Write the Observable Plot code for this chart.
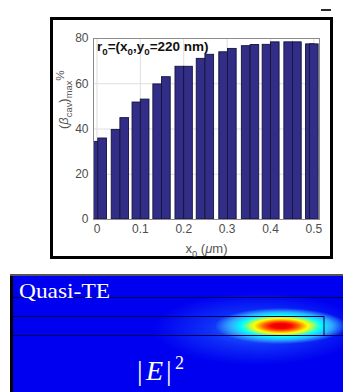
<!DOCTYPE html>
<html><head><meta charset="utf-8">
<script src="https://cdn.jsdelivr.net/npm/d3@7"></script>
<script src="https://cdn.jsdelivr.net/npm/@observablehq/plot@0.6"></script>
<style>
html,body{margin:0;padding:0;background:#fff;}
#wrap{position:relative;width:343px;height:392px;overflow:hidden;font-family:"Liberation Sans",Arial,sans-serif;}
#frame{position:absolute;left:50px;top:17px;width:277px;height:236px;border:3px solid #000;background:#fff;}
#chart{position:absolute;left:0;top:0;}
#mark{position:absolute;left:321px;top:9px;width:10px;height:1.5px;background:#2a2a2a;}
#field{position:absolute;left:13px;top:276px;width:330px;height:116px;
background:
 radial-gradient(ellipse 66px 18px at 268px 50px,#d80000 0%,#ff0000 15%,#ff5a00 26%,#ffb400 34%,#ffff00 41%,#90ff70 50%,#00ffff 60%,#30aaff 77%,rgba(0,70,255,0) 100%),
 radial-gradient(ellipse 105px 36px at 245px 53px,rgba(50,140,255,0.8) 0%,rgba(30,100,255,0.45) 50%,rgba(0,0,240,0) 100%),
 rgb(0,0,240);}
#lbar{position:absolute;left:10px;top:274px;width:3px;height:118px;background:#000;}
#tline{position:absolute;left:10px;top:274px;width:333px;height:2px;background:#555;}
#over{position:absolute;left:0;top:0;}
</style>
</head><body>
<div id="wrap">
  <div id="frame"></div>
  <div id="mark"></div>
  <div id="field"></div>
  <div id="lbar"></div>
  <div id="tline"></div>
  <svg id="over" width="343" height="392">
    <line x1="13" x2="343" y1="297.5" y2="297.5" stroke="#000050" stroke-width="1"/>
    <line x1="13" x2="324" y1="316.5" y2="316.5" stroke="#000050" stroke-width="1"/>
    <line x1="324" x2="324" y1="316.5" y2="335.5" stroke="#000050" stroke-width="1"/>
    <line x1="13" x2="343" y1="335.5" y2="335.5" stroke="#000050" stroke-width="1"/>
    <text x="19" y="298" fill="#fff" font-family="Liberation Serif, Times New Roman, serif" font-size="22" textLength="91" lengthAdjust="spacingAndGlyphs">Quasi-TE</text>
    <text y="380" fill="#fff" font-family="Liberation Serif, Times New Roman, serif" font-size="28"><tspan x="137">|</tspan><tspan x="146" font-style="italic">E</tspan><tspan x="166">|</tspan><tspan x="175" dy="-11" font-size="18">2</tspan></text>
  </svg>
  <div id="chart"></div>
</div>
<script>
// positions (µm) of the bars and their values (%)
const x0 = [0.000, 0.013, 0.044, 0.064, 0.092, 0.111, 0.140, 0.160, 0.191, 0.211, 0.240,
            0.260, 0.292, 0.312, 0.344, 0.364, 0.392, 0.411, 0.442, 0.462, 0.492, 0.501];
const betaMax = [34.3, 35.8, 39.6, 44.8, 51.7, 53.0, 59.7, 62.9, 67.5, 67.5, 71.0,
                 72.8, 73.9, 75.4, 76.6, 77.1, 77.2, 78.3, 78.3, 78.3, 77.4, 77.4];
const yTicks = [0, 20, 40, 60, 80];
const xTicks = [0, 0.1, 0.2, 0.3, 0.4, 0.5];
const annotation = "r0=(x0,y0=220 nm)";
const yLabel = "YLABEL";
const xLabel = "XLABEL";

const bars = x0.map((x, i) => ({x, y: betaMax[i]}));
const halfW = 0.01;

const chart = Plot.plot({
  width: 343, height: 262,
  marginLeft: 93, marginRight: 24, marginTop: 38, marginBottom: 43,
  style: {background: "transparent", fontFamily: "Liberation Sans, Arial, sans-serif", fontSize: "12px", color: "#4d4d4d", overflow: "visible"},
  x: {domain: [-0.008, 0.513]},
  y: {domain: [0, 80]},
  marks: [
    Plot.gridY(yTicks, {stroke: "#dedede", strokeOpacity: 1}),
    Plot.gridX(xTicks, {stroke: "#dedede", strokeOpacity: 1}),
    Plot.rect(bars, {x1: d => d.x - halfW, x2: d => d.x + halfW, y1: d => 0, y2: "y",
      fill: "#322d86", stroke: "#15133a", strokeWidth: 0.9, clip: true}),
    Plot.frame({stroke: "#8c8c8c"}),
    Plot.axisY(yTicks, {tickSize: 0, tickPadding: 5, label: null, fontSize: 12}),
    Plot.axisX(xTicks, {tickSize: 0, tickPadding: 5, label: null, fontSize: 12, tickFormat: d => String(+d.toFixed(1))}),
    Plot.text([annotation], {frameAnchor: "top-left", dx: 3.5, dy: 3, lineAnchor: "top", textAnchor: "start", fontSize: 13.5, fontWeight: "bold", fill: "#111"}),
    Plot.text([yLabel], {frameAnchor: "left", dx: -30, rotate: -90, fontSize: 13, fill: "#555", lineAnchor: "middle"}),
    Plot.text([xLabel], {frameAnchor: "bottom", dy: 29, fontSize: 13, fill: "#555", lineAnchor: "middle"})
  ]
});
document.getElementById("chart").appendChild(chart);

function rich(el, parts, fs) {
  const t = d3.select(el); t.text(null);
  let shift = 0;
  for (const p of parts) {
    const target = p.sub ? fs * 0.32 : p.sup ? -fs * 0.3 : 0;
    const ts = t.append("tspan").attr("dy", target - shift).text(p.t);
    if (p.sub) ts.attr("font-size", fs * 0.72);
    if (p.sup) ts.attr("font-size", fs * 0.9);
    if (p.it) ts.attr("font-style", "italic");
    shift = target;
  }
}
d3.select(chart).selectAll("text").each(function() {
  const s = this.textContent;
  if (s === annotation) rich(this, [{t:"r"},{t:"0",sub:1},{t:"=(x"},{t:"0",sub:1},{t:",y"},{t:"0",sub:1},{t:"=220 nm)"}], 13.5);
  else if (s === yLabel) rich(this, [{t:"("},{t:"β",it:1},{t:"cav",sub:1},{t:")"},{t:"max",sub:1},{t:"%",sup:1}], 13);
  else if (s === xLabel) rich(this, [{t:"x"},{t:"0",sub:1},{t:" ("},{t:"μ",it:1},{t:"m)"}], 13);
});
</script>
</body></html>
